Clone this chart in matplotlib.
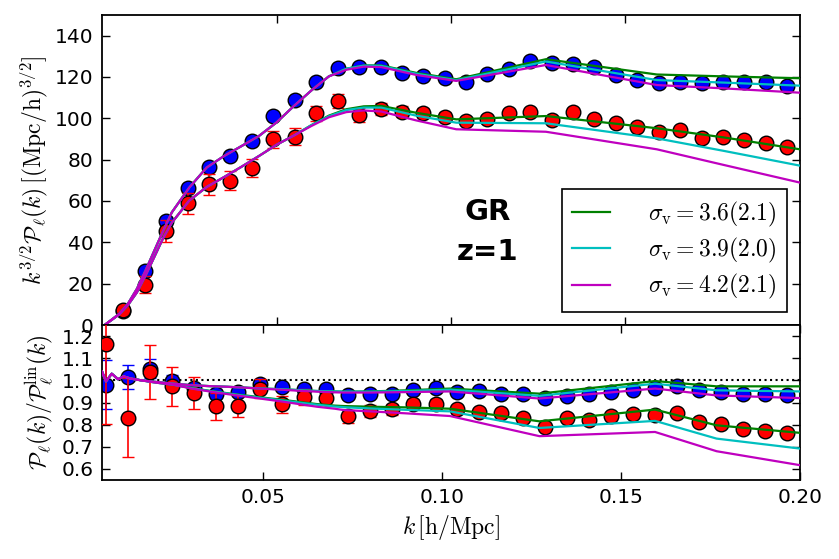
import matplotlib
matplotlib.use("Agg")
import matplotlib.pyplot as plt

plt.rcParams["mathtext.fontset"] = "cm"
plt.rcParams["font.family"] = ["DejaVu Sans"]

# measured k bins
k = [0.0061, 0.0123, 0.0184, 0.0245, 0.0307, 0.0368, 0.0430, 0.0491,
     0.0552, 0.0614, 0.0675, 0.0736, 0.0798, 0.0859, 0.0920, 0.0982,
     0.1043, 0.1104, 0.1166, 0.1227, 0.1289, 0.1350, 0.1411, 0.1473,
     0.1534, 0.1595, 0.1657, 0.1718, 0.1779, 0.1841, 0.1902, 0.1963]

# k^{3/2} P_l(k), blue = monopole, red = quadrupole
mono_pk = [7.0, 26.3, 50.5, 66.4, 76.3, 81.8, 89.0, 101.1, 108.9, 117.4, 124.2,
           124.7, 125.0, 121.8, 120.6, 119.4, 117.4, 121.4, 123.7, 127.9, 126.6,
           126.3, 124.7, 121.0, 118.5, 116.9, 117.7, 117.3, 117.7, 117.4, 117.4, 115.8]
mono_pk_err = [1.0, 1.5, 1.8, 1.8, 1.7, 1.6, 1.5, 1.4, 1.3, 1.2, 1.1, 1.0, 1.0, 0.9,
               0.9, 0.9, 0.8, 0.8, 0.8, 0.8, 0.7, 0.7, 0.7, 0.7, 0.7, 0.6, 0.6, 0.6,
               0.6, 0.6, 0.6, 0.6]
quad_pk = [7.3, 19.4, 45.5, 58.9, 68.1, 69.8, 75.8, 89.8, 91.1, 102.4, 108.5,
           101.6, 104.5, 103.2, 102.4, 100.8, 98.7, 99.7, 102.7, 103.2, 99.2,
           103.2, 99.5, 97.6, 95.6, 93.2, 94.4, 90.6, 91.1, 89.5, 87.9, 86.0]
quad_pk_err = [2.0, 4.1, 5.1, 5.0, 5.0, 4.7, 4.4, 4.2, 4.0, 3.7, 3.4, 3.2, 2.8, 2.6,
               2.4, 2.2, 2.1, 2.0, 1.9, 1.8, 1.7, 1.6, 1.5, 1.5, 1.4, 1.4, 1.3, 1.3,
               1.2, 1.2, 1.2, 1.1]

# ratio to linear theory
mono_ratio = [0.981, 1.015, 1.053, 0.995, 0.965, 0.940, 0.947, 0.985, 0.970, 0.963,
              0.960, 0.935, 0.937, 0.937, 0.955, 0.965, 0.947, 0.950, 0.937, 0.937,
              0.922, 0.929, 0.940, 0.947, 0.958, 0.965, 0.974, 0.955, 0.947, 0.937,
              0.937, 0.935]
mono_ratio_err = [0.11, 0.056, 0.043, 0.03, 0.025, 0.02, 0.017, 0.015, 0.013, 0.012,
                  0.011, 0.01, 0.01, 0.009, 0.009, 0.008, 0.008, 0.008, 0.007, 0.007,
                  0.007, 0.007, 0.006, 0.006, 0.006, 0.006, 0.006, 0.006, 0.005, 0.005,
                  0.005, 0.005]
quad_ratio = [1.162, 0.832, 1.038, 0.973, 0.943, 0.883, 0.883, 0.963, 0.892, 0.925,
              0.920, 0.838, 0.862, 0.869, 0.892, 0.892, 0.869, 0.857, 0.853, 0.832,
              0.790, 0.832, 0.823, 0.839, 0.847, 0.842, 0.854, 0.812, 0.805, 0.782,
              0.770, 0.763]
quad_ratio_err = [0.36, 0.177, 0.12, 0.088, 0.072, 0.06, 0.05, 0.042, 0.038, 0.035,
                  0.033, 0.03, 0.027, 0.025, 0.023, 0.022, 0.02, 0.019, 0.018, 0.017,
                  0.016, 0.016, 0.015, 0.015, 0.014, 0.014, 0.013, 0.013, 0.012, 0.012,
                  0.012, 0.011]

# model curves, upper panel
k_top = [0.001, 0.005, 0.0075, 0.01, 0.0125, 0.015, 0.0175, 0.02, 0.025, 0.03,
         0.035, 0.04, 0.045, 0.05, 0.055, 0.06, 0.065, 0.07, 0.075, 0.08, 0.09,
         0.1015, 0.1272, 0.159, 0.178, 0.2]
mono_top_a = [0.3, 5.5, 10.5, 17.5, 26.5, 36, 45.5, 54.5, 66.5, 76.2, 81.8, 86.6, 91.5,
              98, 106, 113.5, 120.3, 124, 125.6, 125.6, 122, 118.9, 128.6, 121.2, 120.3, 119.4]
mono_top_b = [0.3, 5.5, 10.5, 17.5, 26.5, 36, 45.5, 54.5, 66.5, 76.2, 81.8, 86.6, 91.5,
              98, 106, 113.5, 120.3, 124, 125.5, 125.4, 121.6, 118.5, 127.5, 118.5, 117.3, 115.8]
mono_top_c = [0.3, 5.5, 10.5, 17.5, 26.5, 36, 45.5, 54.5, 66.5, 76.2, 81.8, 86.6, 91.5,
              98, 106, 113.5, 120.3, 123.5, 125, 124.8, 121, 118.1, 125.8, 116.1, 114.5, 112.4]
quad_top_a = [0.3, 5.2, 9.8, 15.8, 24, 33, 42, 49.5, 60.2, 66.8, 71.6, 76.6, 81.8,
              87.2, 91.7, 96.7, 101.3, 104.4, 105.8, 106, 102.7, 99.5, 101.1, 95.2, 90.8, 85]
quad_top_b = [0.3, 5.2, 9.8, 15.8, 24, 33, 42, 49.5, 60.2, 66.8, 71.6, 76.6, 81.8,
              87.2, 91.7, 96.7, 101.0, 104, 105.2, 105.2, 101.3, 97.9, 97.6, 90.3, 84.3, 77.1]
quad_top_c = [0.3, 5.2, 9.8, 15.8, 24, 33, 42, 49.5, 60.2, 66.8, 71.6, 76.6, 81.8,
              87.2, 91.7, 96.3, 100.5, 103, 103.8, 103.3, 99, 94.7, 93.5, 85, 77.5, 68.9]

# model curves, ratio panel
k_bot = [0.005, 0.0061, 0.0077, 0.0095, 0.011, 0.013, 0.016, 0.02, 0.025, 0.03,
         0.035, 0.04, 0.045, 0.05, 0.055, 0.06, 0.065, 0.07, 0.0725, 0.08, 0.09,
         0.1022, 0.1272, 0.1595, 0.1767, 0.2]
mono_bot_a = [1.04, 0.995, 1.03, 1.005, 1.018, 1.008, 1.0, 0.993, 0.985, 0.978, 0.974,
              0.971, 0.967, 0.963, 0.96, 0.956, 0.952, 0.95, 0.949, 0.95, 0.955, 0.963,
              0.94, 0.997, 0.973, 0.973]
mono_bot_b = [1.04, 0.995, 1.03, 1.005, 1.018, 1.008, 1.0, 0.993, 0.985, 0.978, 0.974,
              0.971, 0.967, 0.963, 0.96, 0.956, 0.952, 0.95, 0.949, 0.949, 0.952, 0.958,
              0.93, 0.985, 0.955, 0.95]
mono_bot_c = [1.04, 0.995, 1.03, 1.005, 1.018, 1.008, 1.0, 0.993, 0.985, 0.978, 0.974,
              0.971, 0.967, 0.962, 0.958, 0.953, 0.949, 0.946, 0.945, 0.945, 0.947, 0.95,
              0.918, 0.963, 0.932, 0.92]
quad_bot_a = [1.04, 0.995, 1.03, 1.005, 1.018, 1.008, 1.0, 0.99, 0.98, 0.965, 0.953,
              0.942, 0.932, 0.922, 0.913, 0.903, 0.893, 0.886, 0.884, 0.881, 0.878,
              0.872, 0.815, 0.868, 0.797, 0.763]
quad_bot_b = [1.04, 0.995, 1.03, 1.005, 1.018, 1.008, 1.0, 0.99, 0.98, 0.965, 0.952,
              0.941, 0.93, 0.92, 0.91, 0.9, 0.89, 0.882, 0.879, 0.873, 0.867, 0.86,
              0.785, 0.817, 0.737, 0.692]
quad_bot_c = [1.04, 0.995, 1.03, 1.005, 1.018, 1.008, 1.0, 0.99, 0.98, 0.963, 0.95,
              0.938, 0.927, 0.916, 0.905, 0.893, 0.881, 0.872, 0.866, 0.86, 0.851,
              0.839, 0.748, 0.767, 0.68, 0.617]

labels = [r"$\sigma_{\rm v}=3.6(2.1)$", r"$\sigma_{\rm v}=3.9(2.0)$",
          r"$\sigma_{\rm v}=4.2(2.1)$"]
colors = [(0, 0.5, 0), (0, 0.75, 0.75), (0.75, 0, 0.75)]

fig = plt.figure(figsize=(8.39, 5.59), dpi=100)
ax1 = fig.add_axes([0.1216, 0.4186, 0.8319, 0.5546])
ax2 = fig.add_axes([0.1216, 0.1413, 0.8319, 0.2773])

pt = dict(fmt="o", ms=10.5, mec="k", mew=1.0, capsize=4, elinewidth=1.2, capthick=1.2)

# upper panel
ax1.errorbar(k, mono_pk, yerr=mono_pk_err, color="b", ecolor="b", zorder=2, **pt)
ax1.errorbar(k, quad_pk, yerr=quad_pk_err, color="r", ecolor="r", zorder=3, **pt)
for ym, yq, c, lab in zip([mono_top_a, mono_top_b, mono_top_c],
                          [quad_top_a, quad_top_b, quad_top_c], colors, labels):
    ax1.plot(k_top, ym, color=c, lw=1.6, zorder=4, label=lab)
    ax1.plot(k_top, yq, color=c, lw=1.6, zorder=4)

ax1.set_xlim(0, 0.2)
ax1.set_ylim(0, 150)
ax1.set_xticks([0.05, 0.10, 0.15])
ax1.set_xticklabels([])
ax1.set_yticks(range(0, 141, 20))
ax1.set_ylabel(r"$k^{3/2}\mathcal{P}_\ell(k)\,[({\rm Mpc/h})^{3/2}]$", fontsize=17)
ax1.text(0.552, 0.365, "GR", transform=ax1.transAxes, fontsize=21,
         fontweight="bold", ha="center", va="center")
ax1.text(0.552, 0.235, "z=1", transform=ax1.transAxes, fontsize=21,
         fontweight="bold", ha="center", va="center")
leg = ax1.legend(loc="lower right", fontsize=17, fancybox=False, framealpha=1,
                 edgecolor="k", handlelength=1.6, handletextpad=1.6,
                 labelspacing=0.3, borderaxespad=0.55, borderpad=0.45)
leg.get_frame().set_linewidth(1.2)

# ratio panel
ax2.axhline(1.0, color="k", ls=":", lw=1.5, zorder=1)
ax2.errorbar(k, mono_ratio, yerr=mono_ratio_err, color="b", ecolor="b", zorder=2, **pt)
ax2.errorbar(k, quad_ratio, yerr=quad_ratio_err, color="r", ecolor="r", zorder=3, **pt)
for ym, yq, c in zip([mono_bot_a, mono_bot_b, mono_bot_c],
                     [quad_bot_a, quad_bot_b, quad_bot_c], colors):
    ax2.plot(k_bot, ym, color=c, lw=1.6, zorder=4)
    ax2.plot(k_bot, yq, color=c, lw=1.6, zorder=4)

ax2.set_xlim(0.005, 0.2)
ax2.set_ylim(0.55, 1.25)
ax2.set_xticks([0.05, 0.10, 0.15, 0.20])
ax2.set_xticklabels(["0.05", "0.10", "0.15", "0.20"])
ax2.set_yticks([0.6, 0.7, 0.8, 0.9, 1.0, 1.1, 1.2])
ax2.set_yticklabels(["0.6", "0.7", "0.8", "0.9", "1.0", "1.1", "1.2"])
ax2.set_xlabel(r"$k\,[{\rm h/Mpc}]$", fontsize=17)
ax2.set_ylabel(r"$\mathcal{P}_\ell(k)/\mathcal{P}^{\rm lin}_\ell(k)$", fontsize=17)

for ax in (ax1, ax2):
    ax.tick_params(direction="in", top=True, right=True, length=6, width=1,
                   labelsize=14.5, pad=6)
    for sp in ax.spines.values():
        sp.set_linewidth(1.3)

fig.savefig("out.png", dpi=100)
